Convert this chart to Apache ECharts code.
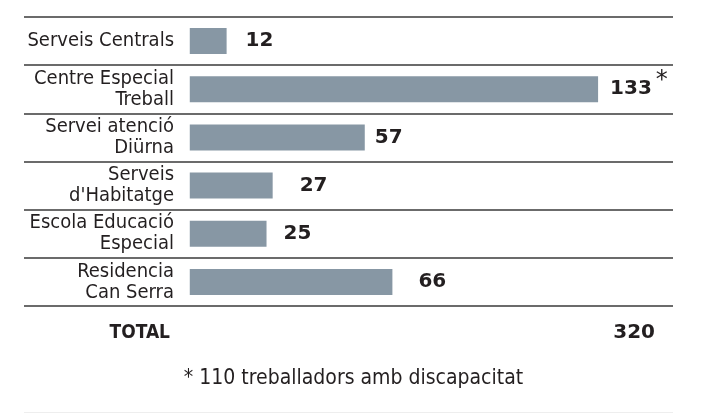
<!DOCTYPE html>
<html lang="ca">
<head>
    <meta charset="UTF-8">
    <title>Treballadors per servei</title>
    <script src="https://cdn.jsdelivr.net/npm/echarts@6/dist/echarts.min.js"></script>
    <style>
        html, body { margin: 0; padding: 0; background: #fff; }
        #main { width: 707px; height: 414px; }
    </style>
</head>
<body>
<div id="main"></div>
<script>
    // categories (line breaks as in the original labels)
    var serveis = [
        'Serveis Centrals',
        'Centre Especial\nTreball',
        'Servei atenció\nDiürna',
        'Serveis\nd\'Habitatge',
        'Escola Educació\nEspecial',
        'Residencia\nCan Serra'
    ];
    var treballadors = [12, 133, 57, 27, 25, 66];
    var ambNota = [false, true, false, false, false, false];
    var totalLabel = 'TOTAL';
    var nota = '* 110 treballadors amb discapacitat';

    var total = treballadors.reduce(function (a, b) { return a + b; }, 0);

    var txt = '#231f20';
    var condensed = '"DejaVu Sans Condensed", "Liberation Sans Narrow", "Liberation Sans", sans-serif';
    var bold = '"DejaVu Sans", Verdana, sans-serif';
    // the original sets the numbers at uneven gaps from the bar ends
    var gaps = [19, 12, 10, 27, 17, 26];

    var myChart = echarts.init(document.getElementById('main'));
    myChart.setOption({
        animation: false,
        grid: { left: 24, right: 34, top: 17, bottom: 108, outerBoundsMode: 'none', containLabel: false },
        xAxis: {
            type: 'value',
            min: -54,
            max: 157.4,
            show: false
        },
        yAxis: {
            type: 'category',
            inverse: true,
            data: serveis,
            axisLine: { show: false },
            axisTick: { show: false },
            // labels sit inside the grid, right-aligned just before the bars
            axisLabel: {
                inside: true,
                margin: 150,
                color: txt,
                fontFamily: condensed,
                fontSize: 20,
                lineHeight: 21,
                align: 'right'
            },
            splitLine: {
                show: true,
                lineStyle: { color: '#3a3a3a', width: 1.5 }
            }
        },
        series: [{
            type: 'bar',
            barWidth: 26,
            itemStyle: { color: '#8797a4' },
            data: treballadors.map(function (v, i) {
                return { value: v, label: { distance: gaps[i] } };
            }),
            label: {
                show: true,
                position: 'right',
                distance: 12,
                formatter: function (p) {
                    return ambNota[p.dataIndex] ? '{v|' + p.value + '}{s|*}' : '{v|' + p.value + '}';
                },
                rich: {
                    v: { fontFamily: bold, fontWeight: 'bold', fontSize: 20, color: txt },
                    s: { fontFamily: bold, fontSize: 24, color: txt, verticalAlign: 'top', padding: [0, 0, 16, 4] }
                }
            }
        }],
        graphic: [
            {
                type: 'text',
                right: 537,
                top: 324,
                style: { text: totalLabel, fill: txt, font: 'bold 19px ' + condensed }
            },
            {
                type: 'text',
                right: 52,
                top: 323,
                style: { text: String(total), fill: txt, font: 'bold 20px ' + bold }
            },
            {
                type: 'text',
                left: 'center',
                top: 368,
                style: { text: nota, fill: txt, font: '21px ' + condensed }
            },
            {
                type: 'rect',
                shape: { x: 24, y: 412, width: 649, height: 1 },
                style: { fill: '#eeeeee' }
            }
        ]
    });
</script>
</body>
</html>
